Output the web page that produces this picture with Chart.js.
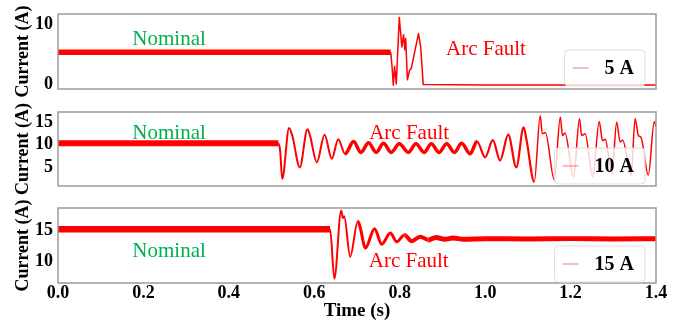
<!DOCTYPE html>
<html><head><meta charset="utf-8">
<script src="https://cdn.jsdelivr.net/npm/chart.js@4.4.1/dist/chart.umd.min.js"></script>
<style>
html,body{margin:0;padding:0;background:#fff;width:681px;height:324px;overflow:hidden;position:relative;}
canvas{position:absolute;left:0;}
</style></head><body>
<canvas id="c1" width="681" height="100" style="top:0px;width:681px;height:100px"></canvas>
<canvas id="c2" width="681" height="98" style="top:98px;width:681px;height:98px"></canvas>
<canvas id="c3" width="681" height="128" style="top:196px;width:681px;height:128px"></canvas>
<script>
// ---------- DATA ----------
const xTickValues = [0.0, 0.2, 0.4, 0.6, 0.8, 1.0, 1.2, 1.4];
const xAxisTitle = 'Time (s)';
const yAxisTitle = 'Current (A)';

// Panel 1 : 5 A
const p1Label = '5 A';
const p1Ticks = [0, 10];
const p1Time    = [0.000, 0.779, 0.782, 0.785, 0.788, 0.792, 0.799, 0.805, 0.809, 0.812, 0.814, 0.818, 0.823, 0.827, 0.844, 0.849, 0.855, 1.000, 1.200, 1.400];
const p1Current = [5.3,   5.3,   2.9,   -0.2,  2.9,   0.0,   11.1,  6.2,   8.2,   5.7,   7.6,   0.7,   2.3,   2.6,   8.4,   6.2,   -0.1,  -0.15, -0.15, -0.15];

// Panel 2 : 10 A
const p2Label = '10 A';
const p2Ticks = [5, 10, 15];
const p2Time    = [0.000, 0.516, 0.520, 0.525, 0.541, 0.549, 0.566, 0.584, 0.590, 0.606, 0.624, 0.641, 0.656, 0.672, 0.692, 0.709, 0.727, 0.745, 0.762, 0.780,
                   0.799, 0.820, 0.838, 0.857, 0.874, 0.892, 0.910, 0.928, 0.945, 0.965, 0.981, 1.000, 1.018, 1.035, 1.054, 1.073, 1.090, 1.097,
                   1.115, 1.129, 1.134, 1.141, 1.162, 1.176, 1.181, 1.187, 1.207, 1.221, 1.226, 1.234, 1.252, 1.267, 1.275, 1.281, 1.297, 1.308, 1.316, 1.322,
                   1.342, 1.351, 1.359, 1.365, 1.382, 1.396, 1.400];
const p2Current = [10.3,  10.3,  8.7,   2.5,   13.7,  11.8,  5.0,   13.4,  12.0,  6.1,   12.2,  6.9,   11.2,  8.0,   10.7,  8.3,   10.4,  8.3,   10.3,  8.3,
                   10.2,  8.3,   10.2,  8.3,   10.2,  8.3,   10.2,  8.3,   10.3,  8.0,   10.7,  7.2,   11.0,  6.5,   12.2,  5.0,   13.8,  11.0,
                   1.8,   16.4,  12.4,  12.7,  2.2,   16.1,  12.0,  12.6,  2.9,   15.7,  12.0,  12.4,  2.9,   15.1,  10.9,  11.2,  3.6,   15.0,  10.6,  11.0,
                   3.3,   15.7,  12.0,  11.6,  3.3,   15.1,  14.0];

// Panel 3 : 15 A
const p3Label = '15 A';
const p3Ticks = [10, 15];
const p3Time    = [0.000, 0.637, 0.647, 0.663, 0.667, 0.670, 0.684, 0.702, 0.707, 0.720, 0.741, 0.758, 0.778, 0.793, 0.811, 0.828, 0.848, 0.867, 0.885, 0.905, 0.925, 0.950, 1.000, 1.100, 1.200, 1.300, 1.400];
const p3Current = [15.2,  15.2,  7.3,   18.2,  17.0,  17.3,  10.8,  16.5,  15.6,  12.2,  15.3,  12.8,  14.6,  13.2,  14.3,  13.3,  14.0,  13.5,  13.9,  13.6,  13.8,  13.6,  13.7,  13.65, 13.7,  13.65, 13.7];

// ---------- STYLE / HELPERS ----------
const SERIF = '"Liberation Serif", "Times New Roman", serif';
const RED = '#ff0000';
const GREEN = '#00b050';

function widthBy(stops) {
  return ctx => {
    const t = ctx.p0.parsed.x;
    for (const [end, w] of stops) if (t < end) return w;
    return stops[stops.length - 1][1];
  };
}

function noOverhang(s) {
  s.paddingTop = 0; s.paddingBottom = 0; s.paddingLeft = 0; s.paddingRight = 0;
}

const framePlugin = {
  id: 'frame',
  afterDatasetsDraw(chart) {
    const {ctx, chartArea: a} = chart;
    ctx.save();
    ctx.strokeStyle = '#9a9a9a';
    ctx.lineWidth = 1.5;
    ctx.strokeRect(a.left, a.top, a.right - a.left, a.bottom - a.top);
    ctx.restore();
  }
};

const textPlugin = {
  id: 'notes',
  afterDatasetsDraw(chart, args, opts) {
    const {ctx} = chart;
    const xs = chart.scales.x, ys = chart.scales.y;
    ctx.save();
    ctx.font = '21px ' + SERIF;
    ctx.textAlign = 'center';
    ctx.textBaseline = 'alphabetic';
    for (const n of (opts.items || [])) {
      ctx.fillStyle = n.color;
      ctx.fillText(n.text, xs.getPixelForValue(n.x), ys.getPixelForValue(n.y));
    }
    ctx.restore();
  }
};

const legendPlugin = {
  id: 'boxLegend',
  afterDraw(chart, args, opts) {
    const {ctx, chartArea: a} = chart;
    const label = chart.data.datasets[0].label;
    ctx.save();
    ctx.font = 'bold 20px ' + SERIF;
    const tw = ctx.measureText(label).width;
    const w = 8 + 16 + 16 + tw + 11, h = 36;
    const x = a.right - 11 - w, y = a.bottom - (opts.gap || 2) - h;
    const r = 4;
    ctx.beginPath();
    ctx.moveTo(x + r, y);
    ctx.arcTo(x + w, y, x + w, y + h, r);
    ctx.arcTo(x + w, y + h, x, y + h, r);
    ctx.arcTo(x, y + h, x, y, r);
    ctx.arcTo(x, y, x + w, y, r);
    ctx.closePath();
    ctx.fillStyle = 'rgba(255,255,255,0.8)';
    ctx.fill();
    ctx.strokeStyle = '#dedede';
    ctx.lineWidth = 1;
    ctx.stroke();
    ctx.beginPath();
    ctx.moveTo(x + 8, y + h / 2);
    ctx.lineTo(x + 24, y + h / 2);
    ctx.strokeStyle = 'rgba(255,0,0,0.45)';
    ctx.lineWidth = 1.2;
    ctx.stroke();
    ctx.fillStyle = '#000';
    ctx.textAlign = 'left';
    ctx.textBaseline = 'middle';
    ctx.fillText(label, x + 40, y + h / 2 + 1);
    ctx.restore();
  }
};

function makeChart(id, cfg) {
  const pts = cfg.time.map((t, i) => ({x: t, y: cfg.current[i]}));
  const showX = !!cfg.showX;
  return new Chart(document.getElementById(id), {
    type: 'line',
    data: {
      datasets: [{
        label: cfg.label,
        data: pts,
        borderColor: RED,
        borderWidth: 1.5,
        pointRadius: 0,
        fill: false,
        borderJoinStyle: 'round',
        cubicInterpolationMode: cfg.smooth ? 'monotone' : 'default',
        tension: 0,
        segment: { borderWidth: widthBy(cfg.widths) }
      }]
    },
    options: {
      responsive: false,
      animation: false,
      devicePixelRatio: 1,
      layout: { padding: { left: 10, right: 25, top: cfg.padTop, bottom: showX ? 0 : cfg.padBottom } },
      plugins: {
        legend: { display: false },
        tooltip: { enabled: false },
        notes: { items: cfg.notes },
        boxLegend: { gap: cfg.legendGap }
      },
      scales: {
        x: {
          type: 'linear',
          min: 0, max: 1.4,
          display: showX,
          grid: { display: false, drawTicks: false },
          border: { display: false },
          afterBuildTicks: s => { s.ticks = xTickValues.map(v => ({value: v})); },
          afterFit: s => { if (showX) s.height = 41; noOverhang(s); },
          ticks: {
            padding: 0,
            color: '#000',
            font: { family: SERIF, size: 18, weight: 'bold' },
            maxRotation: 0,
            callback: v => Number(v).toFixed(1)
          },
          title: {
            display: showX,
            text: xAxisTitle,
            color: '#000',
            font: { family: SERIF, size: 19, weight: 'bold' },
            padding: { top: 0, bottom: 2 }
          }
        },
        y: {
          type: 'linear',
          min: cfg.yMin, max: cfg.yMax,
          grid: { display: false, drawTicks: false },
          border: { display: false },
          afterBuildTicks: s => { s.ticks = cfg.yTicks.map(v => ({value: v})); },
          afterFit: s => { s.width = 48; noOverhang(s); },
          ticks: {
            padding: 5,
            color: '#000',
            font: { family: SERIF, size: 18, weight: 'bold' }
          },
          title: {
            display: true,
            text: yAxisTitle,
            color: '#000',
            font: { family: SERIF, size: 18, weight: 'bold' },
            padding: { top: 3, bottom: 0 }
          }
        }
      }
    },
    plugins: [framePlugin, textPlugin, legendPlugin]
  });
}

makeChart('c1', {
  label: p1Label, time: p1Time, current: p1Current, yTicks: p1Ticks,
  yMin: -0.83, yMax: 11.67, padTop: 14, padBottom: 11, smooth: false, legendGap: 3,
  widths: [[0.779, 5.5], [Infinity, 1.5]],
  notes: [
    {text: 'Nominal', x: 0.26, y: 6.5, color: GREEN},
    {text: 'Arc Fault', x: 1.002, y: 4.83, color: RED}
  ]
});

makeChart('c2', {
  label: p2Label, time: p2Time, current: p2Current, yTicks: p2Ticks,
  yMin: 0.9, yMax: 17.2, padTop: 14, padBottom: 10, smooth: true, legendGap: 2,
  widths: [[0.516, 6], [0.66, 2], [0.98, 3.5], [1.1, 2.2], [Infinity, 1.5]],
  notes: [
    {text: 'Nominal', x: 0.26, y: 11.3, color: GREEN},
    {text: 'Arc Fault', x: 0.822, y: 11.3, color: RED}
  ]
});

makeChart('c3', {
  label: p3Label, time: p3Time, current: p3Current, yTicks: p3Ticks,
  yMin: 6.6, yMax: 18.6, padTop: 12, padBottom: 0, smooth: true, showX: true, legendGap: 1,
  widths: [[0.637, 6.5], [0.70, 2], [0.80, 3], [0.86, 4], [Infinity, 5]],
  notes: [
    {text: 'Nominal', x: 0.26, y: 10.8, color: GREEN},
    {text: 'Arc Fault', x: 0.821, y: 9.15, color: RED}
  ]
});
</script>
</body></html>
